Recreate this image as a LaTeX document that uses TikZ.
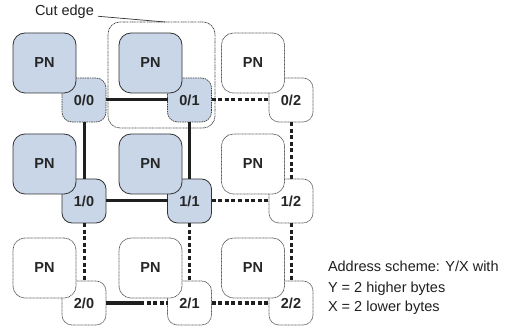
\documentclass[tikz,border=0pt]{standalone}
\usepackage{fontspec}
\setmainfont{Liberation Sans}
\begin{document}
\begin{tikzpicture}[x=1pt,y=-1pt,
  every node/.style={inner sep=0pt, outer sep=0pt},
  pnbase/.style={rectangle, rounded corners=12pt, minimum width=63pt, minimum height=60pt, font=\fontsize{14.5}{16}\selectfont\bfseries, text=black!85},
  rbase/.style={rectangle, rounded corners=10pt, minimum width=44pt, minimum height=44pt, font=\fontsize{14.5}{16}\selectfont\bfseries, text=black!85},
  pnfill/.style={pnbase, fill=bluefill, draw=black!80, line width=0.8pt},
  pnempty/.style={pnbase, fill=white, draw=black!65, line width=0.7pt, dash pattern=on 0.9pt off 0.5pt},
  rfill/.style={rbase, fill=bluefill, draw=black!80, line width=0.8pt},
  rfilldash/.style={rbase, fill=bluefill, draw=black!75, line width=0.7pt, dash pattern=on 1.6pt off 0.8pt},
  rempty/.style={rbase, fill=white, draw=black!65, line width=0.7pt, dash pattern=on 0.9pt off 0.5pt},
  solidc/.style={line width=3pt, draw=black!88},
  dashc/.style={line width=3pt, draw=black!88, dash pattern=on 4pt off 2.6pt},
  cutstyle/.style={rectangle, rounded corners=12pt, minimum width=107pt, minimum height=106pt, draw=black!70, line width=0.7pt, dash pattern=on 1.6pt off 0.6pt on 0.6pt off 0.6pt},
  lbl/.style={font=\fontsize{14.5}{16}\selectfont, text=black!88}
]
\definecolor{bluefill}{RGB}{200,214,232}
\useasboundingbox (0,0) rectangle (517,331);

% cut edge box
\node[cutstyle] (cutbox) at (161.5,75) {};

% routers
\node[rfilldash] (r00) at (84,100) {0/0};
\node[rfilldash] (r01) at (189.5,100) {0/1};
\node[rempty]    (r02) at (291,100) {0/2};
\node[rfill]     (r10) at (84,201) {1/0};
\node[rfill]     (r11) at (189.5,201) {1/1};
\node[rempty]    (r12) at (291,201) {1/2};
\node[rempty]    (r20) at (84,303) {2/0};
\node[rempty]    (r21) at (189.5,303) {2/1};
\node[rempty]    (r22) at (291,303) {2/2};

% processing nodes
\node[pnfill]  (p00) at (44.5,63) {PN};
\node[pnfill]  (p01) at (150.5,63) {PN};
\node[pnempty] (p02) at (253,63) {PN};
\node[pnfill]  (p10) at (44.5,164) {PN};
\node[pnfill]  (p11) at (150.5,164) {PN};
\node[pnempty] (p12) at (253,164) {PN};
\node[pnempty] (p20) at (44.5,268) {PN};
\node[pnempty] (p21) at (150.5,268) {PN};
\node[pnempty] (p22) at (253,268) {PN};

% connectors
\draw[solidc] (r00) -- (r01);
\draw[dashc]  (r01) -- (r02);
\draw[solidc] (r00) -- (r10);
\draw[solidc] (r01) -- (r11);
\draw[dashc]  (r02) -- (r12);
\draw[solidc] (r10) -- (r11);
\draw[dashc]  (r11) -- (r12);
\draw[dashc]  (r10) -- (r20);
\draw[dashc]  (r11) -- (r21);
\draw[dashc]  (r12) -- (r22);
\coordinate (m2) at (140,303);
\draw[solidc] (r20) -- (m2);
\draw[dashc]  (m2) -- (r21);
\draw[dashc]  (r21) -- (r22);

% labels
\node[lbl, anchor=base west] (cutlbl) at (35,16) {Cut edge};
\coordinate (cuttip) at (165,22);
\draw[line width=0.7pt, draw=black!80] ([xshift=4pt,yshift=-4pt]cutlbl.east) -- (cuttip);

\node[lbl, anchor=base west] (a1) at (328,272) {Address scheme: Y/X with};
\node[lbl, anchor=base west] (a2) at (328,292) {Y = 2 higher bytes};
\node[lbl, anchor=base west] (a3) at (328,312) {X = 2 lower bytes};
\end{tikzpicture}
\end{document}
